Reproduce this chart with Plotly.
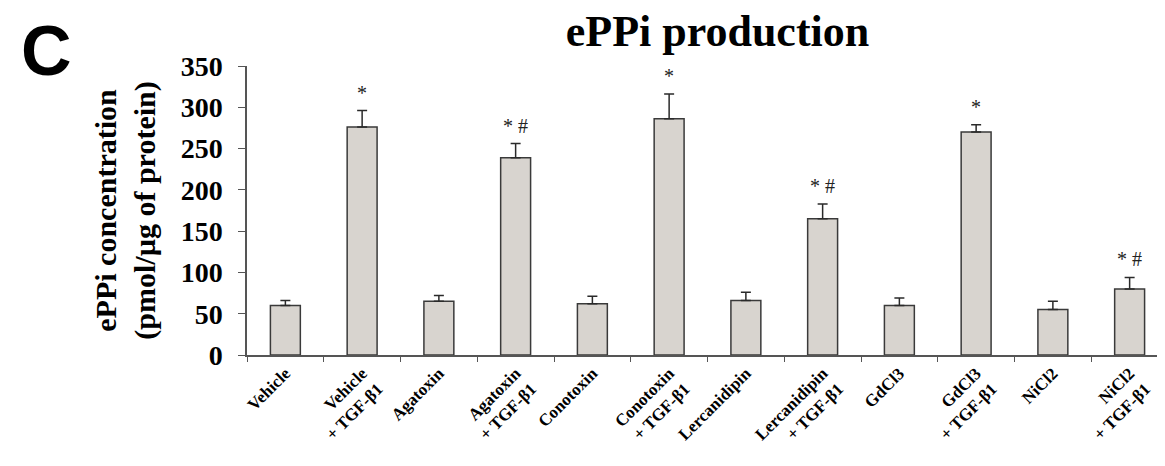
import plotly.graph_objects as go

groups = ["Vehicle", "Vehicle<br>+ TGF-β1", "Agatoxin", "Agatoxin<br>+ TGF-β1",
          "Conotoxin", "Conotoxin<br>+ TGF-β1", "Lercanidipin", "Lercanidipin<br>+ TGF-β1",
          "GdCl3", "GdCl3<br>+ TGF-β1", "NiCl2", "NiCl2<br>+ TGF-β1"]
eppi = [60, 276, 65, 239, 62, 286, 66, 165, 60, 270, 55, 80]
sem = [6, 20, 7, 17, 9, 30, 10, 18, 9, 9, 10, 14]
marks = ["", "*", "", "* #", "", "*", "", "* #", "", "*", "", "* #"]

serif = "Liberation Serif"

fig = go.Figure(go.Bar(
    x=groups, y=eppi,
    width=0.39,
    marker=dict(color="#d8d4cf", line=dict(color="#3a3a3a", width=1.5)),
    error_y=dict(type="data", array=sem, arrayminus=[0] * len(sem), symmetric=False,
                 color="#2a2a2a", thickness=1.5, width=5),
))

# significance marks above the error bars
for g, v, e, m in zip(groups, eppi, sem, marks):
    if m:
        fig.add_annotation(x=g, y=v + e, text=m, showarrow=False, yanchor="bottom",
                           yshift=5, font=dict(family=serif, size=20, color="#222"))

# panel letter
fig.add_annotation(xref="paper", yref="paper", x=-0.218, y=1.195, text="<b>C</b>",
                   showarrow=False, xanchor="center", yanchor="top",
                   font=dict(family="Liberation Sans", size=70, color="black"))

fig.update_layout(
    width=1165, height=466,
    paper_bgcolor="white", plot_bgcolor="white",
    margin=dict(l=239, r=5, t=58, b=119),
    showlegend=False,
    title=dict(text="<b>ePPi production</b>", x=0.609, xanchor="center", y=0.985, yanchor="top",
               font=dict(family=serif, size=44, color="black")),
    font=dict(family=serif, color="black"),
    yaxis=dict(range=[0, 350], dtick=50, showgrid=False, zeroline=False, automargin=False,
               showline=True, linecolor="#555", linewidth=1.5,
               ticks="outside", ticklen=7, tickcolor="#555", ticklabelstandoff=10,
               tickfont=dict(family=serif, size=28, color="black", weight="bold"),
               title=dict(text="<b>ePPi concentration<br>(pmol/µg of protein)</b>",
                          font=dict(family=serif, size=30, color="black"), standoff=16)),
    xaxis=dict(showgrid=False, showline=True, linecolor="#555", linewidth=1.5,
               ticks="outside", ticklen=5, tickcolor="#555", tickson="boundaries",
               tickangle=-45, automargin=False,
               tickfont=dict(family=serif, size=17, color="black", weight="bold")),
)

fig.write_html("out.html")
